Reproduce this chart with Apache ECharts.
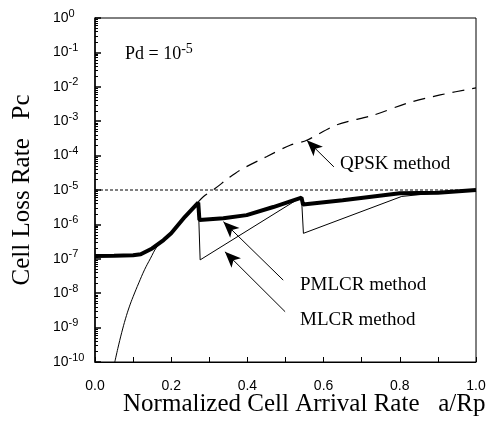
<!DOCTYPE html>
<html>
<head>
<meta charset="utf-8">
<script src="https://cdn.jsdelivr.net/npm/echarts@6/dist/echarts.min.js"></script>
<style>
  html, body { margin: 0; padding: 0; background: #fff; }
  #chart { width: 492px; height: 421px; }
</style>
</head>
<body>
<div id="chart"></div>
<script>
// values: [a/Rp, Pc]
const pmlcr = [
  [0, 1.2e-7], [0.05, 1.22e-7], [0.1, 1.27e-7], [0.12, 1.35e-7], [0.15, 2.0e-7],
  [0.18, 3.5e-7], [0.2, 5.5e-7], [0.236, 1.66e-6], [0.271, 4.3e-6], [0.274, 1.35e-6],
  [0.337, 1.5e-6], [0.398, 1.86e-6], [0.468, 3.2e-6], [0.542, 6.0e-6], [0.546, 3.8e-6],
  [0.65, 5.0e-6], [0.8, 8.0e-6], [0.805, 7.0e-6], [0.9, 8.3e-6], [1.0, 1.0e-5]
];
const mlcrRise = [
  [0.052, 1e-10], [0.06, 2.5e-10], [0.07, 7.1e-10], [0.08, 1.8e-9], [0.09, 4e-9],
  [0.1, 7.9e-9], [0.115, 2e-8], [0.13, 4.8e-8], [0.145, 1e-7], [0.162, 2.2e-7],
  [0.18, 3.6e-7]
];
const mlcrSaw = [
  [0.18, 3.6e-7], [0.2, 5.5e-7], [0.236, 1.66e-6], [0.271, 4.3e-6], [0.276, 9.3e-8],
  [0.53, 5.2e-6], [0.542, 6.0e-6], [0.547, 5.5e-7], [0.805, 6.5e-6], [0.9, 8.3e-6],
  [1.0, 1.0e-5]
];
const qpsk = [
  [0.271, 4.5e-6], [0.285, 6.5e-6], [0.315, 1.1e-5], [0.35, 2.2e-5], [0.381, 3.8e-5],
  [0.45, 9.3e-5], [0.512, 2.0e-4], [0.556, 2.8e-4], [0.634, 7.8e-4], [0.731, 1.5e-3],
  [0.818, 3.3e-3], [0.906, 5.8e-3], [1.0, 9.3e-3]
];
const pdLevel = [[0, 1e-5], [1, 1e-5]];
// arrows: [tail, head]
const arrowQpsk = [[0.627, 4.7e-5], [0.556, 2.8e-4]];
const arrowPmlcr = [[0.494, 2.4e-8], [0.337, 1.2e-6]];
const arrowMlcr = [[0.499, 2.9e-9], [0.341, 1.6e-7]];
const xTicks = [0, 1, 0.2];
const yExponents = [-10, 0];

const chart = echarts.init(document.getElementById('chart'));

const serif = '"Liberation Serif", "Times New Roman", serif';
const sans = '"Liberation Sans", Arial, sans-serif';

function arrow(pts) {
  return [{ coord: pts[0], symbol: 'none' }, { coord: pts[1], symbol: 'arrow', symbolSize: [10, 16] }];
}

const thin = { color: '#000', width: 1 };

const option = {
  backgroundColor: '#fff',
  animation: false,
  grid: {
    left: 95, top: 18, right: 16, bottom: 59, outerBoundsMode: 'none', containLabel: false,
    show: true, borderColor: '#000', borderWidth: 1
  },
  xAxis: {
    type: 'value',
    min: xTicks[0], max: xTicks[1], interval: xTicks[2],
    name: '      Normalized Cell Arrival Rate   a/Rp',
    nameLocation: 'middle', nameGap: 30, nameMoveOverlap: false,
    nameTextStyle: { fontFamily: serif, fontSize: 25, color: '#000' },
    axisLine: { lineStyle: { color: '#000', width: 1 } },
    axisTick: { inside: true, length: 5, lineStyle: { color: '#000' } },
    minorTick: { show: true, splitNumber: 2, length: 5, lineStyle: { color: '#000' } },
    splitLine: { show: false },
    axisLabel: { margin: 17, fontFamily: sans, fontSize: 14, color: '#000', formatter: v => v.toFixed(1) }
  },
  yAxis: {
    type: 'log', logBase: 10,
    min: Math.pow(10, yExponents[0]), max: Math.pow(10, yExponents[1]), interval: 1,
    name: 'Cell Loss Rate   Pc',
    nameLocation: 'middle', nameGap: 60, nameRotate: 90, nameMoveOverlap: false,
    nameTextStyle: { fontFamily: serif, fontSize: 25, color: '#000' },
    axisLine: { lineStyle: { color: '#000', width: 1.5 } },
    axisTick: { inside: true, length: 6, lineStyle: { color: '#000', width: 1.5 } },
    minorTick: { show: true, splitNumber: 9, length: 3, lineStyle: { color: '#000' } },
    splitLine: { show: false },
    axisLabel: {
      margin: 42, align: 'left', color: '#000',
      formatter: v => '{b|10}{e|' + Math.round(Math.log10(v)) + '}',
      rich: {
        b: { fontFamily: sans, fontSize: 14, color: '#000' },
        e: { fontFamily: sans, fontSize: 11, color: '#000', padding: [0, 0, 9, 0] }
      }
    }
  },
  series: [
    {
      name: 'Pd', type: 'line', data: pdLevel, symbol: 'none', silent: true,
      lineStyle: { color: '#000', width: 1, type: [3, 2] }
    },
    {
      name: 'QPSK method', type: 'line', data: qpsk, symbol: 'none', smooth: 0.3,
      lineStyle: { color: '#000', width: 1.2, type: [12, 8] },
      markLine: {
        silent: true, animation: false, label: { show: false },
        lineStyle: { color: '#000', width: 1, type: 'solid' },
        data: [arrow(arrowQpsk), arrow(arrowPmlcr), arrow(arrowMlcr)]
      }
    },
    { name: 'MLCR method', type: 'line', data: mlcrRise, symbol: 'none', smooth: 0.4, lineStyle: thin },
    { name: 'MLCR method', type: 'line', data: mlcrSaw, symbol: 'none', lineStyle: thin },
    {
      name: 'PMLCR method', type: 'line', data: pmlcr, symbol: 'none',
      lineStyle: { color: '#000', width: 4 }
    }
  ],
  graphic: [
    {
      type: 'text', left: 125, top: 42,
      style: { text: '{t|Pd = 10}{e|-5}', rich: {
        t: { fontFamily: serif, fontSize: 18, fill: '#000' },
        e: { fontFamily: serif, fontSize: 14, fill: '#000', padding: [0, 0, 10, 0] }
      } }
    },
    { type: 'text', left: 340, top: 155, style: { text: 'QPSK method', fontFamily: serif, fontSize: 19, fill: '#000' } },
    { type: 'text', left: 300, top: 276, style: { text: 'PMLCR method', fontFamily: serif, fontSize: 19, fill: '#000' } },
    { type: 'text', left: 300, top: 311, style: { text: 'MLCR method', fontFamily: serif, fontSize: 19, fill: '#000' } }
  ]
};

chart.setOption(option);
</script>
</body>
</html>
